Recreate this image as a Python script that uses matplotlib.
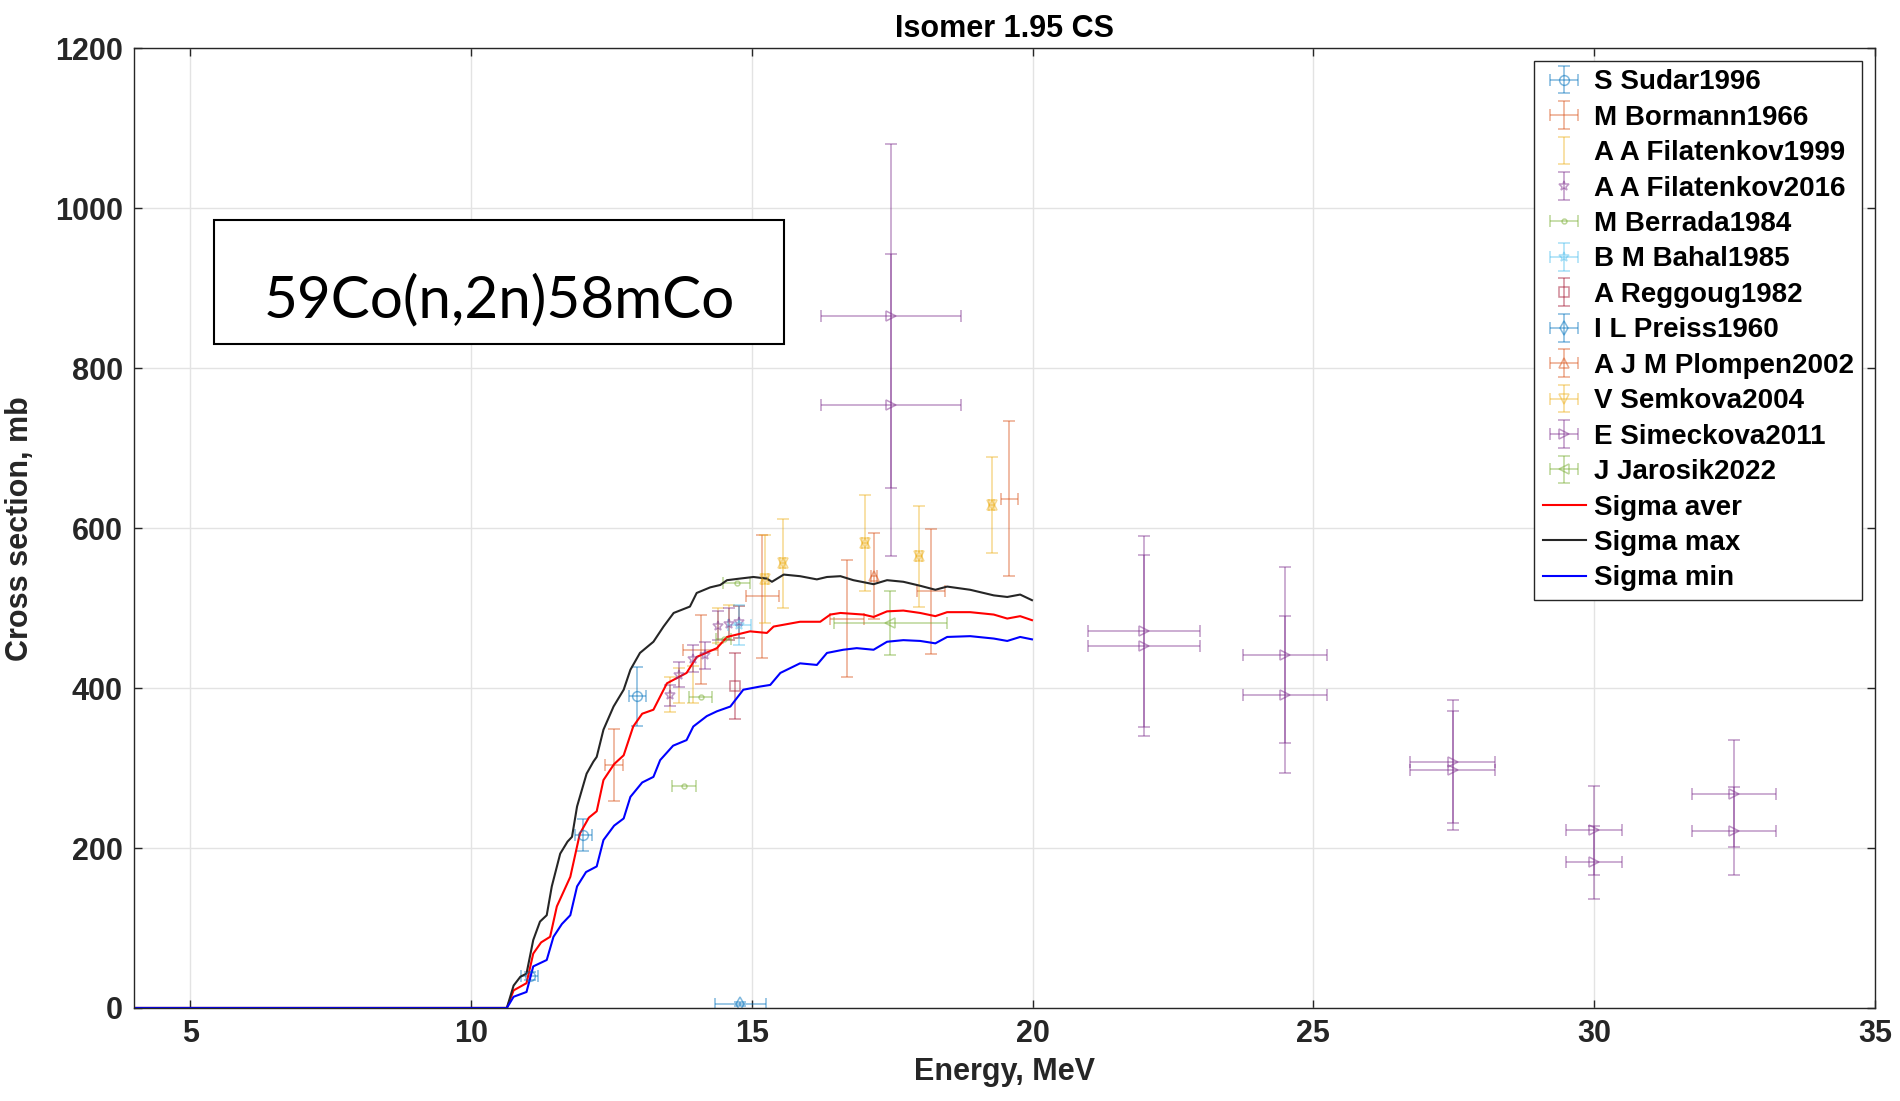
import matplotlib
matplotlib.use("Agg")
import matplotlib.pyplot as plt
from matplotlib.patches import Rectangle

plt.rcParams['font.family'] = ['Liberation Sans', 'DejaVu Sans']

# model curves (MeV, mb)
e_max = [4, 10.64, 10.76, 10.88, 10.99, 11.11, 11.23, 11.35, 11.44, 11.59, 11.72, 11.80, 11.89, 12.06,
         12.18, 12.24, 12.36, 12.54, 12.72, 12.84, 13.01, 13.25, 13.43, 13.61, 13.90, 14.02, 14.26,
         14.44, 14.56, 14.79, 15.03, 15.27, 15.36, 15.57, 15.86, 16.16, 16.34, 16.58, 16.81, 17.17,
         17.41, 17.70, 18.0, 18.27, 18.48, 18.89, 19.31, 19.55, 19.78, 19.99]
s_max = [0, 0, 28, 39, 43, 85, 108, 116, 152, 193, 208, 214, 252, 293,
         308, 314, 348, 377, 398, 423, 444, 458, 477, 494, 502, 519, 526,
         529, 535, 537, 539, 537, 533, 542, 540, 536, 539, 540, 535, 530,
         535, 533, 528, 523, 527, 523, 516, 514, 517, 510]

e_aver = [4, 10.64, 10.76, 10.99, 11.11, 11.25, 11.41, 11.53, 11.77, 11.94, 12.10, 12.24, 12.36, 12.55,
          12.72, 12.89, 13.05, 13.25, 13.49, 13.84, 14.02, 14.38, 14.56, 14.97, 15.27, 15.39, 15.86,
          16.22, 16.40, 16.58, 16.99, 17.17, 17.41, 17.70, 18.0, 18.27, 18.48, 18.89, 19.31, 19.55,
          19.78, 19.99]
s_aver = [0, 0, 22, 31, 68, 82, 89, 127, 164, 218, 238, 246, 285, 305,
          316, 352, 368, 373, 406, 419, 439, 450, 464, 471, 469, 477, 483,
          483, 492, 494, 492, 489, 496, 497, 494, 490, 495, 495, 492, 487,
          490, 485]

e_min = [4, 10.64, 10.76, 10.99, 11.11, 11.35, 11.47, 11.62, 11.77, 11.89, 12.05, 12.24, 12.36, 12.55,
         12.72, 12.84, 13.05, 13.25, 13.37, 13.60, 13.84, 13.96, 14.20, 14.38, 14.62, 14.85, 15.15,
         15.33, 15.51, 15.86, 16.16, 16.34, 16.63, 16.87, 17.17, 17.41, 17.70, 18.0, 18.27, 18.48,
         18.89, 19.31, 19.55, 19.78, 19.99]
s_min = [0, 0, 14, 20, 52, 60, 89, 105, 116, 152, 170, 177, 210, 228,
         237, 264, 282, 289, 310, 328, 335, 352, 365, 371, 377, 398, 402,
         404, 419, 431, 429, 444, 448, 450, 448, 458, 460, 459, 456, 464,
         465, 462, 459, 464, 461]

# experimental data: E, sigma, dE, dsigma
sudar_e = [11.05, 12.0, 12.96]
sudar_s = [40, 216, 390]
sudar_de = [0.15, 0.15, 0.15]
sudar_ds = [5, 20, 37]

bormann_e = [12.54, 14.09, 15.19, 16.70, 18.20, 19.59]
bormann_s = [304, 448, 515, 487, 521, 637]
bormann_de = [0.16, 0.31, 0.29, 0.30, 0.25, 0.16]
bormann_ds = [45, 43, 77, 73, 78, 97]

fil99_e = [13.54, 13.71, 13.95, 14.40, 14.60, 14.78]
fil99_s = [392, 403, 405, 478, 482, 483]
fil99_ds = [22, 22, 23, 22, 22, 20]

fil16_e = [13.54, 13.71, 13.95, 14.17, 14.40, 14.60, 14.78]
fil16_s = [391, 417, 437, 441, 478, 480, 483]
fil16_ds = [13, 16, 17, 17, 18, 20, 20]

berrada_e = [13.79, 14.09, 14.50, 14.73]
berrada_s = [278, 389, 461, 532]
berrada_de = [0.21, 0.20, 0.13, 0.24]

bahal_e = [14.78]
bahal_s = [479]
bahal_de = [0.2]
bahal_ds = [25]

reggoug_e = [14.71]
reggoug_s = [403]
reggoug_ds = [41]

preiss_e = [14.8]
preiss_s = [5]
preiss_de = [0.45]
preiss_ds = [3]

plompen_e = [17.18]
plompen_s = [540]
plompen_de = [0.05]
plompen_ds = [54]

semkova_e = [15.24, 15.55, 17.02, 17.98, 19.27]
semkova_s = [537, 556, 581, 565, 629]
semkova_de = [0.05, 0.05, 0.05, 0.05, 0.05]
semkova_ds = [55, 56, 60, 63, 60]

simeckova_e = [17.48, 17.48, 21.99, 21.99, 24.49, 24.49, 27.48, 27.48, 30.0, 30.0, 32.49, 32.49]
simeckova_s = [865, 754, 471, 453, 441, 392, 308, 297, 222, 182, 268, 221]
simeckova_de = [1.25, 1.25, 1.0, 1.0, 0.75, 0.75, 0.75, 0.75, 0.5, 0.5, 0.75, 0.75]
simeckova_ds = [215, 189, 119, 113, 110, 98, 77, 74, 56, 46, 67, 55]

jarosik_e = [17.47]
jarosik_s = [481]
jarosik_de = [1.0]
jarosik_ds = [40]

c_blue = '#0072BD'
c_orange = '#D95319'
c_yellow = '#EDB120'
c_purple = '#7E2F8E'
c_green = '#77AC30'
c_cyan = '#4DBEEE'
c_dred = '#A2142F'

fig = plt.figure(figsize=(19, 11.01), dpi=100)
ax = fig.add_axes([0.0705, 0.0845, 0.9163, 0.8715])

eb = dict(capsize=4, elinewidth=1.1, capthick=1.1, alpha=0.5, linestyle='none',
          markersize=7, markerfacecolor='none', markeredgewidth=1.1)

ax.errorbar(sudar_e, sudar_s, yerr=sudar_ds, xerr=sudar_de, color=c_blue, marker='o', label='S Sudar1996', **eb)
ax.errorbar(bormann_e, bormann_s, yerr=bormann_ds, xerr=bormann_de, color=c_orange, marker='none', label='M Bormann1966', **eb)
ax.errorbar(fil99_e, fil99_s, yerr=fil99_ds, color=c_yellow, marker='none', label='A A Filatenkov1999', **eb)
ax.errorbar(fil16_e, fil16_s, yerr=fil16_ds, color=c_purple, marker='*', label='A A Filatenkov2016', **eb)
ax.errorbar(berrada_e, berrada_s, xerr=berrada_de, color=c_green, marker='.', label='M Berrada1984', **eb)
ax.errorbar(bahal_e, bahal_s, yerr=bahal_ds, xerr=bahal_de, color=c_cyan, marker='*', label='B M Bahal1985', **eb)
ax.errorbar(reggoug_e, reggoug_s, yerr=reggoug_ds, color=c_dred, marker='s', label='A Reggoug1982', **eb)
ax.errorbar(preiss_e, preiss_s, yerr=preiss_ds, xerr=preiss_de, color=c_blue, marker='d', label='I L Preiss1960', **eb)
ax.errorbar(plompen_e, plompen_s, yerr=plompen_ds, xerr=plompen_de, color=c_orange, marker='^', label='A J M Plompen2002', **eb)
ax.errorbar(semkova_e, semkova_s, yerr=semkova_ds, xerr=semkova_de, color=c_yellow, marker='v', label='V Semkova2004', **eb)
ax.plot(semkova_e, semkova_s, linestyle='none', marker='^', color=c_yellow, alpha=0.5,
        markersize=7, markerfacecolor='none', markeredgewidth=1.1)
ax.errorbar(simeckova_e, simeckova_s, yerr=simeckova_ds, xerr=simeckova_de, color=c_purple, marker='>', label='E Simeckova2011', **eb)
ax.errorbar(jarosik_e, jarosik_s, yerr=jarosik_ds, xerr=jarosik_de, color=c_green, marker='<', label='J Jarosik2022', **eb)

ax.plot(e_aver, s_aver, color='#ff0000', lw=1.5, label='Sigma aver')
ax.plot(e_max, s_max, color='#262626', lw=1.5, label='Sigma max')
ax.plot(e_min, s_min, color='#0000ff', lw=1.5, label='Sigma min')

ax.set_xlim(4, 35)
ax.set_ylim(0, 1200)
ax.set_xticks([5, 10, 15, 20, 25, 30, 35])
ax.set_yticks(range(0, 1201, 200))
ax.grid(True, color='#e3e3e3', lw=1)
ax.set_axisbelow(True)
ax.tick_params(direction='in', length=6, width=1, top=True, right=True, labelsize=22,
               colors='#262626', labelcolor='#262626', pad=8)
for lab in ax.get_xticklabels() + ax.get_yticklabels():
    lab.set_fontweight('bold')
for sp in ax.spines.values():
    sp.set_color('#262626')
    sp.set_linewidth(1)

ax.set_title('Isomer 1.95 CS', fontsize=22, fontweight='bold', pad=8)
ax.set_xlabel('Energy, MeV', fontsize=22, fontweight='bold', color='#262626', labelpad=6)
ax.set_ylabel('Cross section, mb', fontsize=22, fontweight='bold', color='#262626', labelpad=14)

# legend: data first, model curves last
handles, labels = ax.get_legend_handles_labels()
order = [i for i, l in enumerate(labels) if not l.startswith('Sigma')] + \
        [i for i, l in enumerate(labels) if l.startswith('Sigma')]
leg = ax.legend([handles[i] for i in order], [labels[i] for i in order], loc='upper right',
                prop={'weight': 'bold', 'size': 20},
                labelspacing=0.34, handlelength=1.55, handletextpad=0.3, borderaxespad=0.45,
                borderpad=0.3, fancybox=False, framealpha=1, edgecolor='#262626')
leg.get_frame().set_linewidth(1)

# reaction label box
ax.add_patch(Rectangle((0.046, 0.692), 0.3273, 0.1293, transform=ax.transAxes,
                       facecolor='white', edgecolor='black', lw=1.5, zorder=5))
ax.text(0.2096, 0.7376, '59Co(n,2n)58mCo', transform=ax.transAxes, ha='center', va='center',
        fontsize=42, family=['Lato', 'DejaVu Sans'], zorder=6)

fig.savefig('out.png', dpi=100)
